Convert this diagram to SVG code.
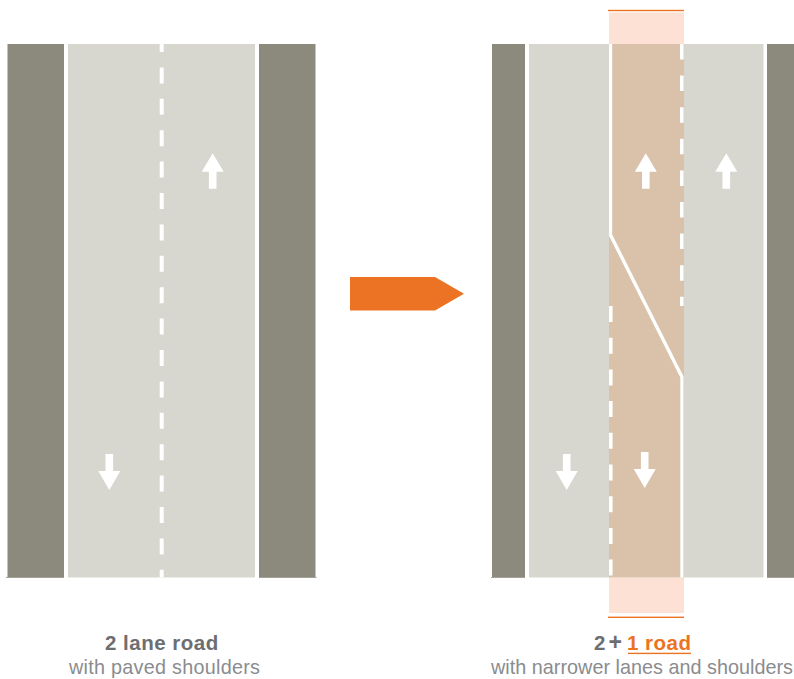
<svg xmlns="http://www.w3.org/2000/svg" width="794" height="679" viewBox="0 0 794 679">
<style>
.sh{fill:#8c8a7c}
.pv{fill:#d7d7cf}
.tan{fill:#dac1aa}
.lt{fill:#fce1d4}
.or{fill:#ec7323}
.w{fill:#fff}
.base{stroke:#a5a398;stroke-width:1;fill:none}
.dash{stroke:#fff;fill:none}
.t1{font:bold 20.500px "Liberation Sans",Arial,sans-serif;letter-spacing:.5px;fill:#6d6e71}
.t2{font:19.800px "Liberation Sans",Arial,sans-serif;fill:#8a8c8f}
</style>
<defs>
<polygon id="up" class="w" points="0,0 11,18.500 3.800,18.500 3.800,35.500 -3.800,35.500 -3.800,18.500 -11,18.500"/>
<polygon id="down" class="w" points="0,36 11,17 3.800,17 3.800,0 -3.800,0 -3.800,17 -11,17"/>
</defs>
<g id="road-2-lane">
<rect class="sh" x="7.500" y="44" width="56.500" height="533.500"/>
<rect class="pv" x="68" y="44" width="187" height="533.500"/>
<rect class="sh" x="259" y="44" width="56.500" height="533.500"/>
<path class="base" d="M6 577.500H64M259 577.500H316.500"/>
<path d="M161.700 44V577.500" class="dash" stroke-width="4" stroke-dashoffset="8" style="stroke-dasharray:16 15.400"/>
<use href="#up" x="212.700" y="153.300"/>
<use href="#down" x="109.300" y="454"/>
</g>
<g id="arrow-main"><polygon class="or" points="350,277 435,277 464,293.700 435,310.500 350,310.500"/></g>
<g id="road-2-plus-1">
<rect class="sh" x="492" y="44" width="33" height="533.500"/>
<rect class="pv" x="529" y="44" width="80" height="533.500"/>
<rect class="lt" x="609" y="12.500" width="75" height="31.500"/>
<rect class="lt" x="609" y="577.500" width="75" height="35.500"/>
<rect class="tan" x="609" y="44" width="75" height="533.500"/>
<rect class="pv" x="684" y="44" width="79.500" height="533.500"/>
<rect class="sh" x="767" y="44" width="27" height="533.500"/>
<path class="base" d="M491 577.500H525M767 577.500H794"/>
<rect class="or" x="608" y="9.800" width="76" height="1.400"/>
<rect class="or" x="608" y="616.600" width="76" height="1.400"/>
<rect class="w" x="609" y="44" width="3.200" height="190"/>
<path class="dash" stroke-width="3.600" d="M681.800 44V306" style="stroke-dasharray:15.500 16.100"/>
<path class="dash" stroke-width="3.600" d="M610.800 306V577" style="stroke-dasharray:16 15.700"/>
<path d="M610 234L682 377" stroke="#fff" stroke-width="3.400" fill="none"/>
<rect class="w" x="680.300" y="376" width="3.200" height="201.500"/>
<use href="#up" x="645.800" y="153.300"/>
<use href="#up" x="726.300" y="153.300"/>
<use href="#down" x="566.700" y="454"/>
<use href="#down" x="644.700" y="452"/>
</g>
<g id="label-left">
<text class="t1" x="105" y="650">2 lane road</text>
<text class="t2" x="69" y="674" textLength="191">with paved shoulders</text>
</g>
<g id="label-right">
<text class="t1" x="594" y="650">2</text>
<text class="t1" x="608.500" y="650" style="font-size:23px">+</text>
<text class="t1" x="627" y="650" style="fill:#ec7323">1 road</text>
<rect class="or" x="628" y="652.700" width="63" height="1.400"/>
<text class="t2" x="491" y="674" textLength="302">with narrower lanes and shoulders</text>
</g>
</svg>
